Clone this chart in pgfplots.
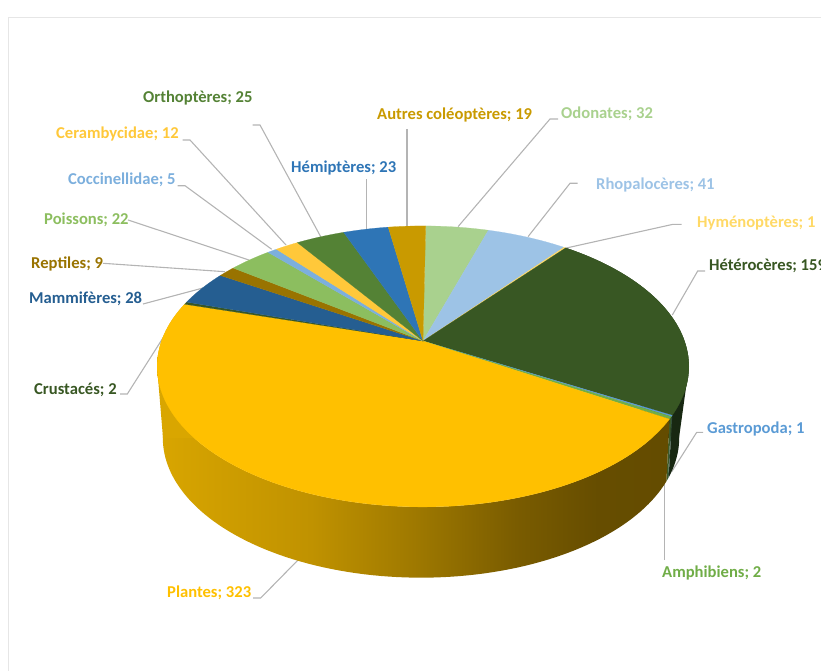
\documentclass[border=0pt]{standalone}
\usepackage{fontspec}
\setmainfont{Carlito}
\usepackage{pgfplots}
\pgfplotsset{compat=1.18}

\definecolor{cOdo}{HTML}{A9D18E}
\definecolor{cRho}{HTML}{9DC3E6}
\definecolor{cHym}{HTML}{FFD966}
\definecolor{cHet}{HTML}{385723}
\definecolor{cGas}{HTML}{5B9BD5}
\definecolor{cAmp}{HTML}{70AD47}
\definecolor{cPla}{HTML}{FFC000}
\definecolor{cCru}{HTML}{385723}
\definecolor{cMam}{HTML}{255E91}
\definecolor{cRep}{HTML}{997300}
\definecolor{cPoi}{HTML}{8CBE5F}
\definecolor{cCoc}{HTML}{7CAFDD}
\definecolor{cCer}{HTML}{FFC83A}
\definecolor{cOrt}{HTML}{548235}
\definecolor{cHem}{HTML}{2E75B6}
\definecolor{cAut}{HTML}{C99A00}
\definecolor{leader}{HTML}{B4B4B4}
\definecolor{frame}{HTML}{E6E6E6}
\definecolor{sideHet}{RGB}{24,40,18}
\definecolor{sideGas}{RGB}{50,80,60}
\definecolor{sideAmp}{RGB}{60,90,40}
\definecolor{sideGold}{rgb}{0.85,0.65,0}

\pgfdeclarehorizontalshading{goldside}{100bp}{
  rgb(0bp)=(0.85,0.65,0);
  rgb(25bp)=(0.85,0.65,0);
  rgb(40bp)=(0.753,0.573,0);
  rgb(50bp)=(0.624,0.475,0);
  rgb(60bp)=(0.478,0.361,0);
  rgb(68bp)=(0.40,0.302,0);
  rgb(75bp)=(0.392,0.298,0);
  rgb(100bp)=(0.392,0.298,0)}

\pgfplotsset{
  sNo/.style={draw=none,fill=none},
  sHet/.style={draw=none,fill=sideHet},
  sGas/.style={draw=none,fill=sideGas},
  sAmp/.style={draw=none,fill=sideAmp},
  sPla/.style={draw=none,shading=goldside},
  lead/.style={draw=leader,line width=1.1pt,mark=none},
}
\tikzset{lab/.style={anchor=base west,inner sep=0pt,font=\fontsize{16.6}{16.6}\selectfont\bfseries}}

% value, top colour, side style, clockwise from 12 o'clock
\def\slices{32/cOdo/sNo,41/cRho/sNo,1/cHym/sNo,159/cHet/sHet,1/cGas/sGas,2/cAmp/sAmp,
  323/cPla/sPla,2/cCru/sNo,28/cMam/sNo,9/cRep/sNo,22/cPoi/sNo,5/cCoc/sNo,
  12/cCer/sNo,25/cOrt/sNo,23/cHem/sNo,19/cAut/sNo}

% appends an arc of the tilted disc to \ptlist: from, to, x of centre, y of apex, a, b, k
\newcommand\arcpts[7]{%
  \pgfmathtruncatemacro\nsteps{max(1,ceil(abs(#2-#1)/1.5))}%
  \foreach \i in {0,...,\nsteps}{%
    \pgfmathsetmacro\tang{0.7+#1+\i/\nsteps*(#2-#1)}%
    \pgfmathsetmacro\dnom{1+#7*cos(\tang)}%
    \pgfmathsetmacro\xx{#3+#6*sin(\tang)/\dnom}%
    \pgfmathsetmacro\yy{#4-#5*cos(\tang)/\dnom}%
    \xdef\ptlist{\ptlist (\xx,\yy)}%
  }}

\begin{document}
\begin{tikzpicture}
\path[use as bounding box,clip] (0,0) rectangle (821pt,671pt);
\begin{axis}[
  at={(0,0)},anchor=south west,
  scale only axis,width=821pt,height=671pt,
  xmin=0,xmax=821,ymin=0,ymax=671,y dir=reverse,
  hide axis,clip=false,
]
% chart frame
\addplot[draw=frame,line width=1.4pt,mark=none] coordinates {(8.5,671) (8.5,17.5) (821,17.5)};

% leader lines
\addplot[lead] coordinates {(252.7,125) (260,125) (320.7,236.7)};
\addplot[lead] coordinates {(182.7,140) (190,140) (286,245)};
\addplot[lead] coordinates {(177.7,185.7) (185,185.7) (271.7,249.3)};
\addplot[lead] coordinates {(128,220) (249,260)};
\addplot[lead] coordinates {(103,263.3) (225,271.7)};
\addplot[lead] coordinates {(143,304) (203,288)};
\addplot[lead] coordinates {(366.7,179.3) (366.7,232)};
\addplot[lead] coordinates {(407,129) (407,230)};
\addplot[lead] coordinates {(558,119) (550,119) (458,226.7)};
\addplot[lead] coordinates {(577.7,183.3) (570,183.3) (528,236.7)};
\addplot[lead] coordinates {(681.7,224.3) (673,224.3) (565,248.3)};
\addplot[lead] coordinates {(705,271) (697.7,271) (672.3,315)};
\addplot[lead] coordinates {(703,432.3) (696.7,432.3) (671.7,471.7)};
\addplot[lead] coordinates {(664.3,560) (664.3,480)};
\addplot[lead] coordinates {(120,394) (127.3,394) (168,330)};
\addplot[lead] coordinates {(253,598) (260.7,598) (298,560)};

% right silhouette of the wall
\addplot[draw=none,fill=sideHet,mark=none] coordinates {(689,366) (679,438) (640,438) (640,366) (689,366)};

% side wall
\xdef\cum{0}
\foreach \v/\col/\sty in \slices {
  \pgfmathsetmacro\ta{\cum/704*360}
  \pgfmathsetmacro\tb{(\cum+\v)/704*360}
  \pgfmathsetmacro\newcum{\cum+\v}
  \xdef\cum{\newcum}
  \xdef\ptlist{}
  \arcpts{\ta}{\tb}{423}{341}{135.9}{261.5}{0.181}
  \arcpts{\tb}{\ta}{421}{403}{131}{250}{0.25}
  \edef\plotit{\noexpand\addplot[\sty,mark=none] coordinates {\ptlist};}
  \plotit
}

% left silhouette of the wall
\addplot[draw=none,fill=sideGold,mark=none] coordinates {(157,366) (163,438) (200,438) (200,366) (157,366)};

% top face
\xdef\cum{0}
\foreach \v/\col/\sty in \slices {
  \pgfmathsetmacro\ta{\cum/704*360}
  \pgfmathsetmacro\tb{(\cum+\v)/704*360}
  \pgfmathsetmacro\newcum{\cum+\v}
  \xdef\cum{\newcum}
  \xdef\ptlist{(423,341)}
  \arcpts{\ta}{\tb}{423}{341}{135.9}{261.5}{0.181}
  \edef\plotit{\noexpand\addplot[draw=\col,line width=0.2pt,fill=\col,mark=none] coordinates {\ptlist (423,341)};}
  \plotit
}

\node[lab,text=cOrt] at (axis cs:143,102.5) {Orthoptères; 25};
\node[lab,text=cCer] at (axis cs:56,138.5) {Cerambycidae; 12};
\node[lab,text=cCoc] at (axis cs:68,184.5) {Coccinellidae; 5};
\node[lab,text=cPoi] at (axis cs:44,224.5) {Poissons; 22};
\node[lab,text=cRep] at (axis cs:31,268.5) {Reptiles; 9};
\node[lab,text=cMam] at (axis cs:29,303.5) {Mammifères; 28};
\node[lab,text=cCru] at (axis cs:34,394.5) {Crustacés; 2};
\node[lab,text=cPla] at (axis cs:167,597.5) {Plantes; 323};
\node[lab,text=cAmp] at (axis cs:662,577.5) {Amphibiens; 2};
\node[lab,text=cGas] at (axis cs:707,433.5) {Gastropoda; 1};
\node[lab,text=cHet] at (axis cs:709,270.5) {Hétérocères; 159};
\node[lab,text=cHym] at (axis cs:697,227.5) {Hyménoptères; 1};
\node[lab,text=cRho] at (axis cs:596,189.5) {Rhopalocères; 41};
\node[lab,text=cOdo] at (axis cs:561,118.5) {Odonates; 32};
\node[lab,text=cAut] at (axis cs:377,119.5) {Autres coléoptères; 19};
\node[lab,text=cHem] at (axis cs:291,172.5) {Hémiptères; 23};
\end{axis}
\end{tikzpicture}
\end{document}
